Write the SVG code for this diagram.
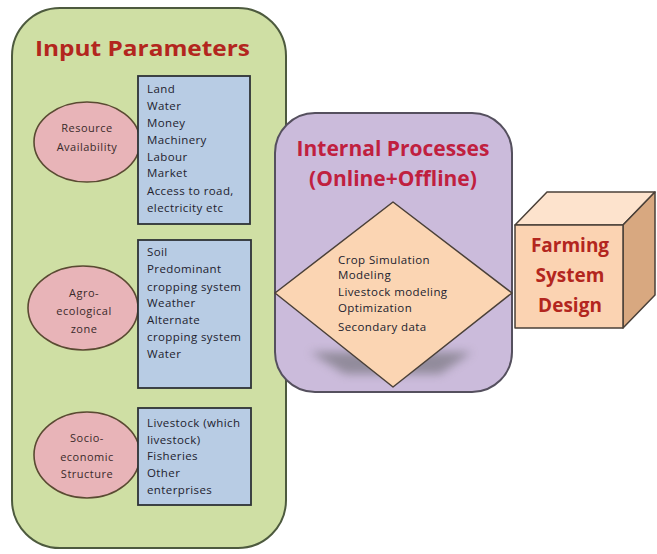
<svg xmlns="http://www.w3.org/2000/svg" width="657" height="554" viewBox="0 0 657 554">
  <defs>
    <filter id="soft" x="-20%" y="-50%" width="140%" height="200%">
      <feGaussianBlur stdDeviation="5"/>
    </filter>
  </defs>
  <style>
    .panel-green { fill: #cfdfa4; stroke: #4d5a3e; stroke-width: 2; }
    .panel-purple { fill: #cbbbdb; stroke: #55505e; stroke-width: 2; }
    .oval { fill: #e8b4b8; stroke: #5a4a32; stroke-width: 1.6; }
    .list { fill: #b8cce4; stroke: #2e3236; stroke-width: 1.8; }
    .title { font-family: "Open Sans", "Liberation Sans", sans-serif; font-weight: bold; }
    .small { font-family: "Open Sans", "Liberation Sans", sans-serif; font-size: 11.5px; letter-spacing: 0.4px; fill: #22222e; }
    .oval-text { font-family: "Open Sans", "Liberation Sans", sans-serif; font-size: 11px; letter-spacing: 0.5px; fill: #3a2a2a; text-anchor: middle; }
    .edge { stroke: #4a4038; stroke-width: 1.5; stroke-linejoin: round; }
  </style>

  <!-- Input parameters panel -->
  <g id="input-parameters">
    <rect class="panel-green" x="12" y="8" width="274" height="540" rx="48" ry="48"/>
    <text class="title" x="35" y="56" font-size="22" fill="#b3261e" textLength="215" lengthAdjust="spacingAndGlyphs">Input Parameters</text>
  </g>

  <!-- Resource availability -->
  <g id="resource-availability">
    <ellipse class="oval" cx="87" cy="142" rx="53" ry="40"/>
    <text class="oval-text" x="87" y="132">Resource</text>
    <text class="oval-text" x="87" y="151">Availability</text>
  </g>
  <g id="resource-list">
    <rect class="list" x="138" y="76" width="112" height="148"/>
    <text class="small" x="147" y="93">Land</text>
    <text class="small" x="147" y="110">Water</text>
    <text class="small" x="147" y="127">Money</text>
    <text class="small" x="147" y="144">Machinery</text>
    <text class="small" x="147" y="161">Labour</text>
    <text class="small" x="147" y="177">Market</text>
    <text class="small" x="147" y="195">Access to road,</text>
    <text class="small" x="147" y="212">electricity etc</text>
  </g>

  <!-- Agro-ecological zone -->
  <g id="agro-ecological-zone">
    <ellipse class="oval" cx="83" cy="308" rx="55" ry="42"/>
    <text class="oval-text" x="84" y="297">Agro-</text>
    <text class="oval-text" x="84" y="315">ecological</text>
    <text class="oval-text" x="84" y="333">zone</text>
  </g>
  <g id="agro-list">
    <rect class="list" x="138" y="240" width="113" height="148"/>
    <text class="small" x="147" y="256">Soil</text>
    <text class="small" x="147" y="273">Predominant</text>
    <text class="small" x="147" y="291">cropping system</text>
    <text class="small" x="147" y="307">Weather</text>
    <text class="small" x="147" y="324">Alternate</text>
    <text class="small" x="147" y="341">cropping system</text>
    <text class="small" x="147" y="358">Water</text>
  </g>

  <!-- Socio-economic structure -->
  <g id="socio-economic-structure">
    <ellipse class="oval" cx="87" cy="455" rx="53" ry="43"/>
    <text class="oval-text" x="87" y="442">Socio-</text>
    <text class="oval-text" x="87" y="461">economic</text>
    <text class="oval-text" x="87" y="478">Structure</text>
  </g>
  <g id="socio-list">
    <rect class="list" x="138" y="408" width="113" height="97"/>
    <text class="small" x="147" y="427">Livestock (which</text>
    <text class="small" x="147" y="444">livestock)</text>
    <text class="small" x="147" y="460">Fisheries</text>
    <text class="small" x="147" y="477">Other</text>
    <text class="small" x="147" y="494">enterprises</text>
  </g>

  <!-- Internal processes panel -->
  <g id="internal-processes">
    <rect class="panel-purple" x="275" y="113" width="237" height="279" rx="40" ry="40"/>
    <text class="title" x="393" y="156" font-size="21" fill="#c0203f" text-anchor="middle">Internal Processes</text>
    <text class="title" x="393" y="186" font-size="21" fill="#c0203f" text-anchor="middle">(Online+Offline)</text>
  </g>

  <!-- Process diamond with its cast shadow -->
  <g id="process-diamond">
    <polygon points="310,352 472,352 440,374 345,374" fill="#7f7c86" opacity="0.75" filter="url(#soft)"/>
    <polygon class="edge" points="393,202 512,293 393,387 275,293" fill="#fbd5b3"/>
    <text class="small" x="338" y="264">Crop Simulation</text>
    <text class="small" x="338" y="279">Modeling</text>
    <text class="small" x="338" y="296">Livestock modeling</text>
    <text class="small" x="338" y="312">Optimization</text>
    <text class="small" x="338" y="331">Secondary data</text>
  </g>

  <!-- Farming system design cube -->
  <g id="farming-system-design">
    <polygon class="edge" points="515,225 547,192 655,192 623,225" fill="#fde3cd"/>
    <polygon class="edge" points="623,225 655,192 655,295 623,328" fill="#d8a880"/>
    <rect class="edge" x="515" y="225" width="108" height="103" fill="#fbd3b2"/>
    <text class="title" x="570" y="252" font-size="19" fill="#b3261e" text-anchor="middle">Farming</text>
    <text class="title" x="570" y="282" font-size="19" fill="#b3261e" text-anchor="middle">System</text>
    <text class="title" x="570" y="312" font-size="19" fill="#b3261e" text-anchor="middle">Design</text>
  </g>
</svg>
